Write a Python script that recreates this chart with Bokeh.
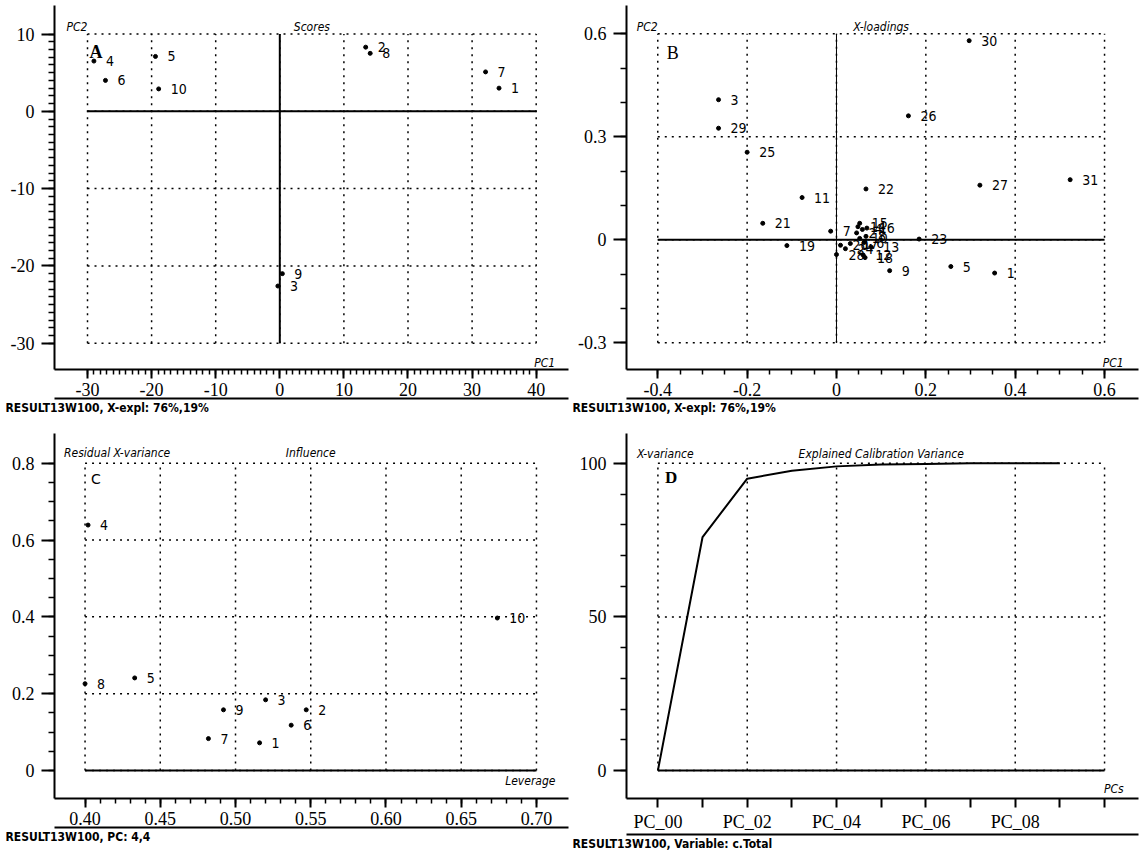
import numpy as np
from bokeh.plotting import figure
from bokeh.layouts import gridplot
from bokeh.models import Range1d, FixedTicker, LinearAxis, Title
from bokeh.core.properties import value
from bokeh.embed import file_html
from bokeh.resources import INLINE

# ---------------- data ----------------
score_labels = ["1", "2", "3", "4", "5", "6", "7", "8", "9", "10"]
score_pc1 = [34.2, 13.4, -0.3, -29.0, -19.4, -27.2, 32.1, 14.1, 0.4, -18.9]
score_pc2 = [3.0, 8.3, -22.6, 6.5, 7.1, 4.0, 5.1, 7.5, -21.0, 2.9]

loading_labels = [str(i) for i in range(1, 32)]
loading_pc1 = [0.354, 0.045, -0.264, 0.058, 0.256, 0.062, -0.013, 0.066, 0.119, 0.052,
               -0.077, 0.060, 0.078, 0.048, 0.052, 0.068, 0.031, 0.064, -0.111, 0.009,
               -0.165, 0.066, 0.185, 0.020, -0.200, 0.161, 0.321, 0.000, -0.264, 0.297, 0.523]
loading_pc2 = [-0.097, 0.020, 0.408, 0.030, -0.078, -0.008, 0.025, 0.010, -0.090, 0.004,
               0.123, -0.045, -0.022, 0.038, 0.048, 0.034, -0.011, -0.052, -0.017, -0.016,
               0.048, 0.148, 0.002, -0.026, 0.255, 0.361, 0.159, -0.043, 0.325, 0.580, 0.175]

influence_labels = ["1", "2", "3", "4", "5", "6", "7", "8", "9", "10"]
leverage = [0.516, 0.547, 0.520, 0.402, 0.433, 0.537, 0.482, 0.400, 0.492, 0.674]
resid_xvar = [0.072, 0.158, 0.184, 0.639, 0.241, 0.118, 0.083, 0.226, 0.158, 0.397]

pc_names = ["PC_00", "PC_01", "PC_02", "PC_03", "PC_04", "PC_05", "PC_06", "PC_07", "PC_08", "PC_09"]
explained_var = [0.0, 76.0, 95.0, 97.6, 99.0, 99.6, 99.8, 100.0, 100.0, 100.0]

# ---------------- ticks ----------------
a_xticks = [-30, -20, -10, 0, 10, 20, 30, 40]
a_xlabels = ["-30", "-20", "-10", "0", "10", "20", "30", "40"]
a_yticks = [-30, -20, -10, 0, 10]
a_ylabels = ["-30", "-20", "-10", "0", "10"]

b_xticks = [-0.4, -0.2, 0, 0.2, 0.4, 0.6]
b_xlabels = ["-0.4", "-0.2", "0", "0.2", "0.4", "0.6"]
b_yticks = [-0.3, 0, 0.3, 0.6]
b_ylabels = ["-0.3", "0", "0.3", "0.6"]

c_xticks = [0.40, 0.45, 0.50, 0.55, 0.60, 0.65, 0.70]
c_xlabels = ["0.40", "0.45", "0.50", "0.55", "0.60", "0.65", "0.70"]
c_yticks = [0, 0.2, 0.4, 0.6, 0.8]
c_ylabels = ["0", "0.2", "0.4", "0.6", "0.8"]

d_xticks = list(range(11))
d_xlabels = ["PC_00", "", "PC_02", "", "PC_04", "", "PC_06", "", "PC_08", "", ""]
d_yticks = [0, 50, 100]
d_ylabels = ["0", "50", "100"]

SERIF = "Liberation Serif"
NARROW = "DejaVu Sans Condensed"
DOT = "2 5"


def minor(lo, hi, step):
    return [round(v, 4) for v in np.arange(lo, hi + step / 2, step)]


def panel(w, h, xr, yr, bl, bt, bb, br):
    p = figure(width=w, height=h, x_range=Range1d(*xr), y_range=Range1d(*yr),
               output_backend="svg", toolbar_location=None,
               min_border_left=bl, min_border_right=br,
               min_border_top=bt, min_border_bottom=bb)
    p.outline_line_color = None
    p.xgrid.visible = False
    p.ygrid.visible = False
    return p


def style_axis(ax, ticks, labels, minor_ticks, tout, mout, standoff):
    ax.ticker = FixedTicker(ticks=ticks, minor_ticks=minor_ticks)
    ax.major_label_overrides = dict(zip(ticks, labels))
    ax.axis_line_width = 2
    ax.axis_line_color = "black"
    ax.major_tick_in = 0
    ax.major_tick_out = tout
    ax.minor_tick_in = 0
    ax.minor_tick_out = mout
    ax.major_tick_line_width = 2
    ax.minor_tick_line_width = 1.5
    ax.major_tick_line_color = "black"
    ax.minor_tick_line_color = "black"
    ax.major_label_text_font = SERIF
    ax.major_label_text_font_size = "18px"
    ax.major_label_text_color = "black"
    ax.major_label_standoff = standoff


def finish(p, xt, xl, xmin, yt, yl, ymin, caption, cap_off, left_px):
    # data units per pixel along x, to let the bottom rules run left of the y axis as in the original
    frame_w = p.width - p.min_border_left - p.min_border_right
    upp = (p.x_range.end - p.x_range.start) / frame_w
    style_axis(p.xaxis[0], xt, xl, xmin, 9, 5, 4)
    p.xaxis[0].bounds = (p.x_range.start - (left_px - 7) * upp, p.x_range.end)
    style_axis(p.yaxis[0], yt, yl, ymin, 13, 6, 7)
    ax2 = LinearAxis(ticker=FixedTicker(ticks=[]), axis_line_width=2, axis_line_color="black",
                     bounds=(p.x_range.start - left_px * upp, p.x_range.end),
                     major_label_text_font_size="0px", major_tick_out=0, minor_tick_out=0,
                     major_tick_in=0, minor_tick_in=0, major_label_standoff=0,
                     axis_label_standoff=0, axis_label_text_font_size="0px")
    p.add_layout(ax2, "below")
    p.add_layout(Title(text=caption, align="left", offset=cap_off, standoff=0,
                       text_font=NARROW, text_font_size="12px", text_font_style="bold",
                       text_color="black"), "below")


def grid(p, xs, ys, x0, x1, y0, y1):
    p.segment(x0=xs, y0=[y0] * len(xs), x1=xs, y1=[y1] * len(xs),
              line_color="black", line_dash=DOT, line_width=1.5)
    p.segment(x0=[x0] * len(ys), y0=ys, x1=[x1] * len(ys), y1=ys,
              line_color="black", line_dash=DOT, line_width=1.5)


def txt(p, x, y, s, **kw):
    opts = dict(text_font=value(NARROW), text_font_size="12px", text_font_style="italic",
                text_color="black")
    opts.update(kw)
    p.text(x=[x], y=[y], text=[s], **opts)


def points(p, xs, ys, labels):
    p.scatter(xs, ys, size=4, color="black")
    p.text(x=xs, y=ys, text=labels, x_offset=12, text_baseline="middle",
           text_font=value(NARROW), text_font_size="14px", text_color="black")


def headings(p, box, ylab, title, xlab, top_gap, xlab_dy, letter, letter_kw, letter_dx, letter_dy):
    x0, x1, y0, y1 = box
    txt(p, x0, y1, ylab, x_offset=-21, y_offset=-top_gap, text_baseline="alphabetic")
    txt(p, (x0 + x1) / 2, y1, title, y_offset=-top_gap, text_align="center",
        text_baseline="alphabetic")
    txt(p, x1, y0, xlab, x_offset=19, y_offset=xlab_dy, text_align="right",
        text_baseline="alphabetic")
    txt(p, x0, y1, letter, x_offset=letter_dx, y_offset=letter_dy, text_baseline="middle",
        **letter_kw)


# ---------------- A : Scores ----------------
pA = panel(570, 420, (-35.15, 45.04), (-33.4, 13.69), 54, 5, 51, 2)
boxA = (a_xticks[0], a_xticks[-1], a_yticks[0], a_yticks[-1])
grid(pA, a_xticks, a_yticks, *boxA)
pA.segment(x0=[boxA[0]], y0=[0], x1=[boxA[1]], y1=[0], line_color="black", line_width=2)
pA.segment(x0=[0], y0=[boxA[2]], x1=[0], y1=[boxA[3]], line_color="black", line_width=2)
points(pA, score_pc1, score_pc2, score_labels)
headings(pA, boxA, "PC2", "Scores", "PC1", 7, 20, "A",
         dict(text_font=value(SERIF), text_font_size="18px", text_font_style="bold"), 2, 18)
finish(pA, a_xticks, a_xlabels, minor(-30, 40, 1), a_yticks, a_ylabels, minor(-30, 10, 1),
       "RESULT13W100, X-expl: 76%,19%", -49, 54)

# ---------------- B : X-loadings ----------------
pB = panel(571, 420, (-0.470, 0.676), (-0.378, 0.6825), 56, 5, 51, 3)
boxB = (b_xticks[0], b_xticks[-1], b_yticks[0], b_yticks[-1])
grid(pB, b_xticks, b_yticks, *boxB)
pB.segment(x0=[boxB[0]], y0=[0], x1=[boxB[1]], y1=[0], line_color="black", line_width=2)
pB.segment(x0=[0], y0=[boxB[2]], x1=[0], y1=[boxB[3]], line_color="black", line_width=1)
points(pB, loading_pc1, loading_pc2, loading_labels)
headings(pB, boxB, "PC2", "X-loadings", "PC1", 7, 20, "B",
         dict(text_font=value(SERIF), text_font_size="18px", text_font_style="normal"), 9, 19)
finish(pB, b_xticks, b_xlabels, minor(-0.4, 0.6, 0.05), b_yticks, b_ylabels, minor(-0.3, 0.6, 0.1),
       "RESULT13W100, X-expl: 76%,19%", -54, 56)

# ---------------- C : Influence ----------------
pC = panel(570, 430, (0.3797, 0.7213), (-0.0729, 0.8774), 54, 13, 52, 2)
boxC = (c_xticks[0], c_xticks[-1], c_yticks[0], c_yticks[-1])
grid(pC, c_xticks, c_yticks, *boxC)
pC.segment(x0=[boxC[0]], y0=[0], x1=[boxC[1]], y1=[0], line_color="black", line_width=2)
points(pC, leverage, resid_xvar, influence_labels)
headings(pC, boxC, "Residual X-variance", "Influence", "Leverage", 10, 11, "C",
         dict(text_font=value("DejaVu Sans"), text_font_size="14px", text_font_style="normal"), 6, 16)
finish(pC, c_xticks, c_xlabels, minor(0.40, 0.70, 0.01), c_yticks, c_ylabels, minor(0, 0.8, 0.05),
       "RESULT13W100, PC: 4,4", -49, 54)

# ---------------- D : Explained variance ----------------
pD = panel(571, 430, (-0.703, 10.76), (-9.1, 109.7), 56, 13, 52, 3)
pc_pos = list(range(len(pc_names)))
boxD = (d_xticks[0], d_xticks[-1], d_yticks[0], d_yticks[-1])
grid(pD, d_xticks[::2], d_yticks, *boxD)
pD.segment(x0=[boxD[0]], y0=[0], x1=[boxD[1]], y1=[0], line_color="black", line_width=2)
pD.line(pc_pos, explained_var, line_color="black", line_width=2)
headings(pD, boxD, "X-variance", "Explained Calibration Variance", "PCs", 9, 18, "D",
         dict(text_font=value(SERIF), text_font_size="17px", text_font_style="bold"), 7, 14)
finish(pD, d_xticks, d_xlabels, [], d_yticks, d_ylabels, minor(0, 100, 10),
       "RESULT13W100, Variable:  c.Total", -54, 56)

layout = gridplot([[pA, pB], [pC, pD]], toolbar_location=None)
open("out.html", "w").write(file_html(layout, INLINE))
